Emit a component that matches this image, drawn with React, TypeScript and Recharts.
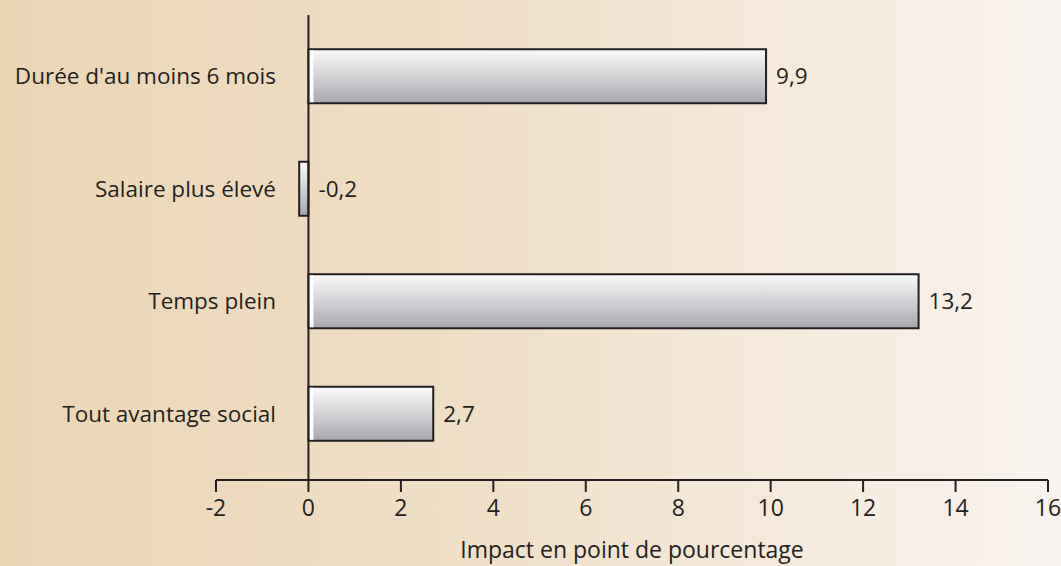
import { Bar, BarChart, LabelList, ReferenceLine, XAxis, YAxis } from 'recharts'

const categories = ["Durée d'au moins 6 mois", 'Salaire plus élevé', 'Temps plein', 'Tout avantage social']
const impacts = [9.9, -0.2, 13.2, 2.7]
const xTicks = [-2, 0, 2, 4, 6, 8, 10, 12, 14, 16]
const axisTitle = 'Impact en point de pourcentage'

const data = categories.map((name, i) => ({ name, impact: impacts[i] }))

const FONT = '"Open Sans", sans-serif'
const INK = '#231f20'

function fmt(v: number) {
  return String(v).replace('.', ',')
}

function BarShape(props: any) {
  const x = Number(props.x)
  const y = Number(props.y)
  const width = Number(props.width)
  const height = Number(props.height)
  const left = Math.min(x, x + width)
  const w = Math.abs(width)
  return (
    <g>
      <rect x={left} y={y} width={w} height={height} fill="url(#barFill)" stroke={INK} strokeWidth={2} />
      {w > 12 && <rect x={left + 1} y={y + 1} width={4} height={height - 2} fill="#ffffff" />}
    </g>
  )
}

function ValueLabel(props: any) {
  const x = Number(props.x)
  const y = Number(props.y)
  const width = Number(props.width)
  const height = Number(props.height)
  const right = Math.max(x, x + width)
  return (
    <text x={right + 10} y={y + height / 2} dy="0.35em" fontFamily={FONT} fontSize={22.5} fill={INK}>
      {fmt(Number(props.value))}
    </text>
  )
}

function CategoryTick(props: any) {
  const { x, y, payload } = props
  return (
    <text x={x + 60} y={y} dy="0.35em" textAnchor="end" fontFamily={FONT} fontSize={22.5} fill={INK}>
      {payload.value}
    </text>
  )
}

export default function App() {
  return (
    <div
      style={{
        position: 'absolute',
        left: 0,
        top: 0,
        width: 1061,
        height: 566,
        background: 'linear-gradient(to right, #ebd5b5 0%, #efdfc8 45%, #f9f3ef 100%)',
      }}
    >
      <BarChart
        width={1061}
        height={566}
        data={data}
        layout="vertical"
        barCategoryGap="26%"
        margin={{ top: 15, right: 13, bottom: 0, left: 0 }}
      >
        <defs>
          <linearGradient id="barFill" x1="0" y1="0" x2="0" y2="1">
            <stop offset="0%" stopColor="#fcfcfc" />
            <stop offset="100%" stopColor="#a7a7ae" />
          </linearGradient>
        </defs>
        <XAxis
          type="number"
          domain={[-2, 16]}
          ticks={xTicks}
          interval={0}
          height={86}
          tickSize={12}
          tickMargin={8}
          axisLine={{ stroke: INK, strokeWidth: 2 }}
          tickLine={{ stroke: INK, strokeWidth: 2 }}
          tick={{ fill: INK, fontSize: 23, fontFamily: FONT }}
          label={{ value: axisTitle, position: 'insideBottom', offset: 8, fill: INK, fontSize: 23, fontFamily: FONT }}
        />
        <YAxis
          type="category"
          dataKey="name"
          width={216}
          axisLine={false}
          tickLine={false}
          tickSize={0}
          tickMargin={0}
          padding={{ top: 5, bottom: 10 }}
          tick={<CategoryTick />}
        />
        <ReferenceLine x={0} stroke={INK} strokeWidth={2} ifOverflow="extendDomain" />
        <Bar
          dataKey="impact"
          fill="url(#barFill)"
          stroke={INK}
          strokeWidth={2}
          shape={(p: any) => <BarShape {...p} />}
          isAnimationActive={false}
        >
          <LabelList dataKey="impact" content={<ValueLabel />} />
        </Bar>
      </BarChart>
    </div>
  )
}
